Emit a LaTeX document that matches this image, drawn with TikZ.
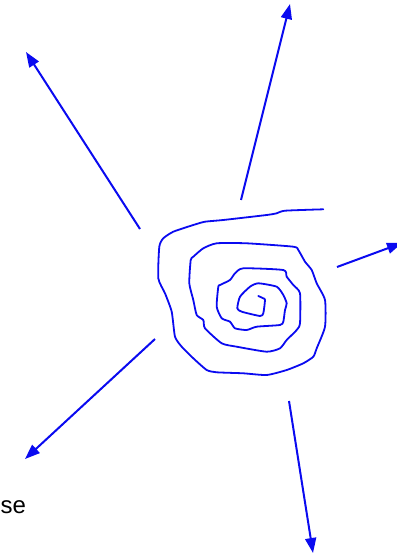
\documentclass[tikz,border=0pt]{standalone}
\usepackage{fontspec}
\setmainfont{Liberation Sans}
\usepackage{tikz}
\usetikzlibrary{arrows.meta}
\definecolor{SpiralBlue}{RGB}{10,10,240}

\begin{document}
\begin{tikzpicture}[x=1pt, y=-1pt, every node/.style={font=\fontsize{24}{28}\selectfont},
  ray/.style={-{Triangle[length=15pt, width=11pt]}, line width=2pt, SpiralBlue},
  curl/.style={line width=1.8pt, SpiralBlue, line join=round, line cap=round}]

\useasboundingbox (0,0) rectangle (396,556);

% start and end points of the rays
\coordinate (s1) at (140,229);  \coordinate (e1) at (26,52);
\coordinate (s2) at (241,200);  \coordinate (e2) at (290,4);
\coordinate (s3) at (337,267);  \coordinate (e3) at (402,243);
\coordinate (s4) at (155,339);  \coordinate (e4) at (25,459);
\coordinate (s5) at (289,401);  \coordinate (e5) at (313,553);

% hand drawn spiral
\draw[curl] plot[smooth, tension=0.35] coordinates {
  (323.3,209.3) (285,210.7) (276.7,213.3) (266.7,215) (223.3,220) (205,221.7)
  (193.3,225) (173.3,231.7) (163.3,238.3) (159.3,246.7) (158.3,278.3) (165,293.3)
  (171.7,311.7) (175,336.7) (181.7,346.7) (193.3,358.3) (206.7,370) (216.7,372.3)
  (243.3,373.3) (266.7,375) (286.7,370) (303.3,363.3) (313.3,356.7) (316.7,348.3)
  (325,326.7) (325,300) (316.7,283.3) (311.7,270) (305,261.7) (298.3,250)
  (293.3,246.7) (246.7,243.3) (216.7,243.3) (203.3,248.3) (193.3,256.7) (190.7,260)
  (189.3,283.3) (193.3,300) (196.7,315) (203.3,320) (205,328.3) (221.7,343.3)
  (236.7,346.7) (266.7,351.7) (280,348.3) (286.7,340) (296.7,330) (300,323.3)
  (300,293.3) (293.3,285) (286.7,276.7) (283.3,270) (243.3,268.3) (235,273.3)
  (230,280) (220,285) (218.3,286.7) (216.7,306.7) (221.7,318.3) (230,321.7)
  (235,328.3) (246.7,330) (256.7,326.7) (280,325) (283.3,321.7) (285,310)
  (286.7,303.3) (283.3,295) (276.7,286.7) (258.3,283.3) (250,286.7) (240,296.7)
  (237.3,308.3) (241.7,311.7) (260,316) (263.3,313.3) (265,300) (263.3,298.3)
  (258.3,296)};

% rays
\draw[ray] (s1) -- (e1);
\draw[ray] (s2) -- (e2);
\draw[ray] (s3) -- (e3);
\draw[ray] (s4) -- (e4);
\draw[ray] (s5) -- (e5);

% label at the lower left
\node[anchor=base west, inner sep=0pt] (lbl) at (0.5,513) {se};
\end{tikzpicture}
\end{document}
